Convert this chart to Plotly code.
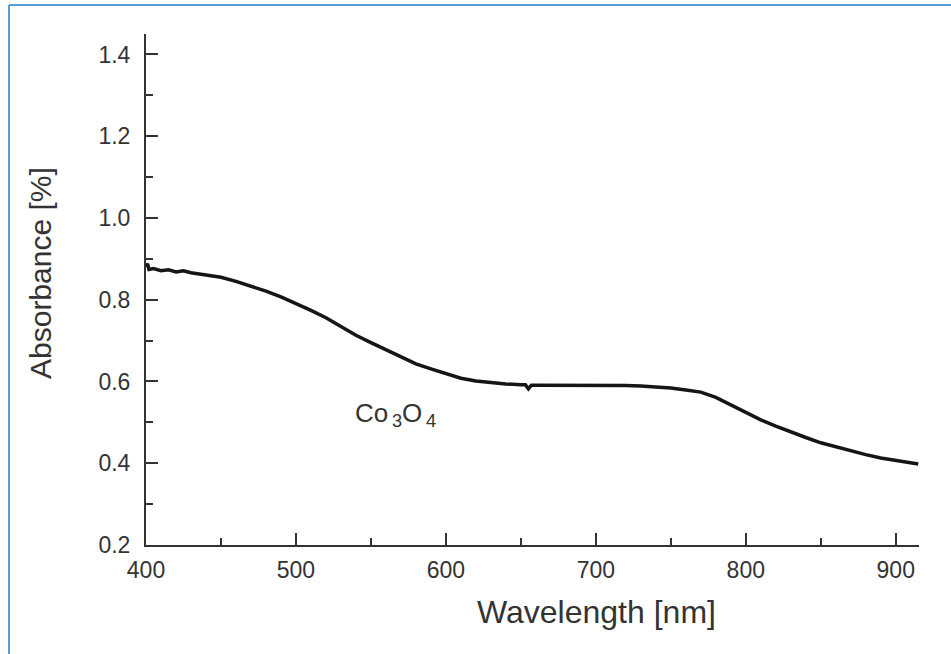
import plotly.graph_objects as go

wavelength_nm = [400, 401, 402, 405, 410, 415, 420, 425, 430, 440, 450, 460, 470, 480, 490,
                 500, 510, 520, 530, 540, 550, 560, 570, 580, 590, 600, 610, 620, 630, 640,
                 650, 653, 655, 657, 660, 670, 680, 690, 700, 710, 720, 730, 740, 750, 760,
                 770, 780, 790, 800, 810, 820, 830, 840, 850, 860, 870, 880, 890, 900, 910, 915]
absorbance = [0.880, 0.888, 0.874, 0.876, 0.871, 0.873, 0.868, 0.871, 0.866, 0.861, 0.855,
              0.845, 0.834, 0.821, 0.807, 0.791, 0.774, 0.756, 0.734, 0.713, 0.695, 0.677,
              0.660, 0.643, 0.631, 0.620, 0.608, 0.601, 0.597, 0.594, 0.592, 0.592, 0.582,
              0.591, 0.591, 0.591, 0.592, 0.592, 0.591, 0.591, 0.590, 0.589, 0.587, 0.584,
              0.579, 0.574, 0.561, 0.542, 0.523, 0.506, 0.491, 0.476, 0.463, 0.450, 0.440,
              0.431, 0.421, 0.413, 0.407, 0.402, 0.398]

x_title = "Wavelength [nm]"
y_title = "Absorbance [%]"
label_text = "Co<sub>\u20093</sub>O<sub>\u20094</sub>"

W, H = 951, 654
L, R, T, B = 146, 32, 34, 109
pw, ph = W - L - R, H - T - B

def px(x):
    return (x - L) / pw

def py(y):
    return (H - B - y) / ph

FONT = "Liberation Sans, Arial, sans-serif"
TXT = "#333333"

fig = go.Figure()
fig.add_trace(go.Scatter(x=wavelength_nm, y=absorbance, mode="lines",
                         line=dict(color="#151515", width=3.5), showlegend=False))

axis_common = dict(showgrid=False, zeroline=False, showline=True, linecolor="#333333",
                   linewidth=2, ticks="inside", ticklen=12, tickwidth=2, tickcolor="#333333",
                   tickfont=dict(family=FONT, size=23, color=TXT))

fig.update_xaxes(range=[400, 915.5], tickmode="linear", tick0=400, dtick=100,
                 ticklabelstandoff=3,
                 minor=dict(ticks="inside", ticklen=7, tickwidth=2, tickcolor="#333333",
                            dtick=50, tick0=400, showgrid=False),
                 **axis_common)
fig.update_yaxes(range=[0.2, 1.45], tickmode="linear", tick0=0.2, dtick=0.2,
                 tickformat=".1f", ticklabelstandoff=9,
                 minor=dict(ticks="inside", ticklen=7, tickwidth=2, tickcolor="#333333",
                            dtick=0.1, tick0=0.2, showgrid=False),
                 **axis_common)

fig.update_layout(
    width=W, height=H,
    margin=dict(l=L, r=R, t=T, b=B),
    plot_bgcolor="white", paper_bgcolor="white",
    annotations=[
        dict(text=x_title, xref="paper", yref="paper", x=px(596), y=py(612),
             showarrow=False, xanchor="center", yanchor="middle",
             font=dict(family=FONT, size=32, color=TXT)),
        dict(text=y_title, xref="paper", yref="paper", x=px(40), y=py(273),
             showarrow=False, xanchor="center", yanchor="middle", textangle=-90,
             font=dict(family=FONT, size=30, color=TXT)),
        dict(text=label_text, xref="paper", yref="paper", x=px(395), y=py(414),
             showarrow=False, xanchor="center", yanchor="middle",
             font=dict(family=FONT, size=26, color=TXT)),
    ],
    shapes=[
        dict(type="line", xref="paper", yref="paper", x0=px(9), x1=px(960), y0=py(5), y1=py(5),
             line=dict(color="#5b9bd5", width=2)),
        dict(type="line", xref="paper", yref="paper", x0=px(9), x1=px(9), y0=py(5), y1=py(670),
             line=dict(color="#5b9bd5", width=2)),
    ],
)

fig.write_html("out.html", config={"displayModeBar": False},
               post_script="document.body.style.margin='0';")
